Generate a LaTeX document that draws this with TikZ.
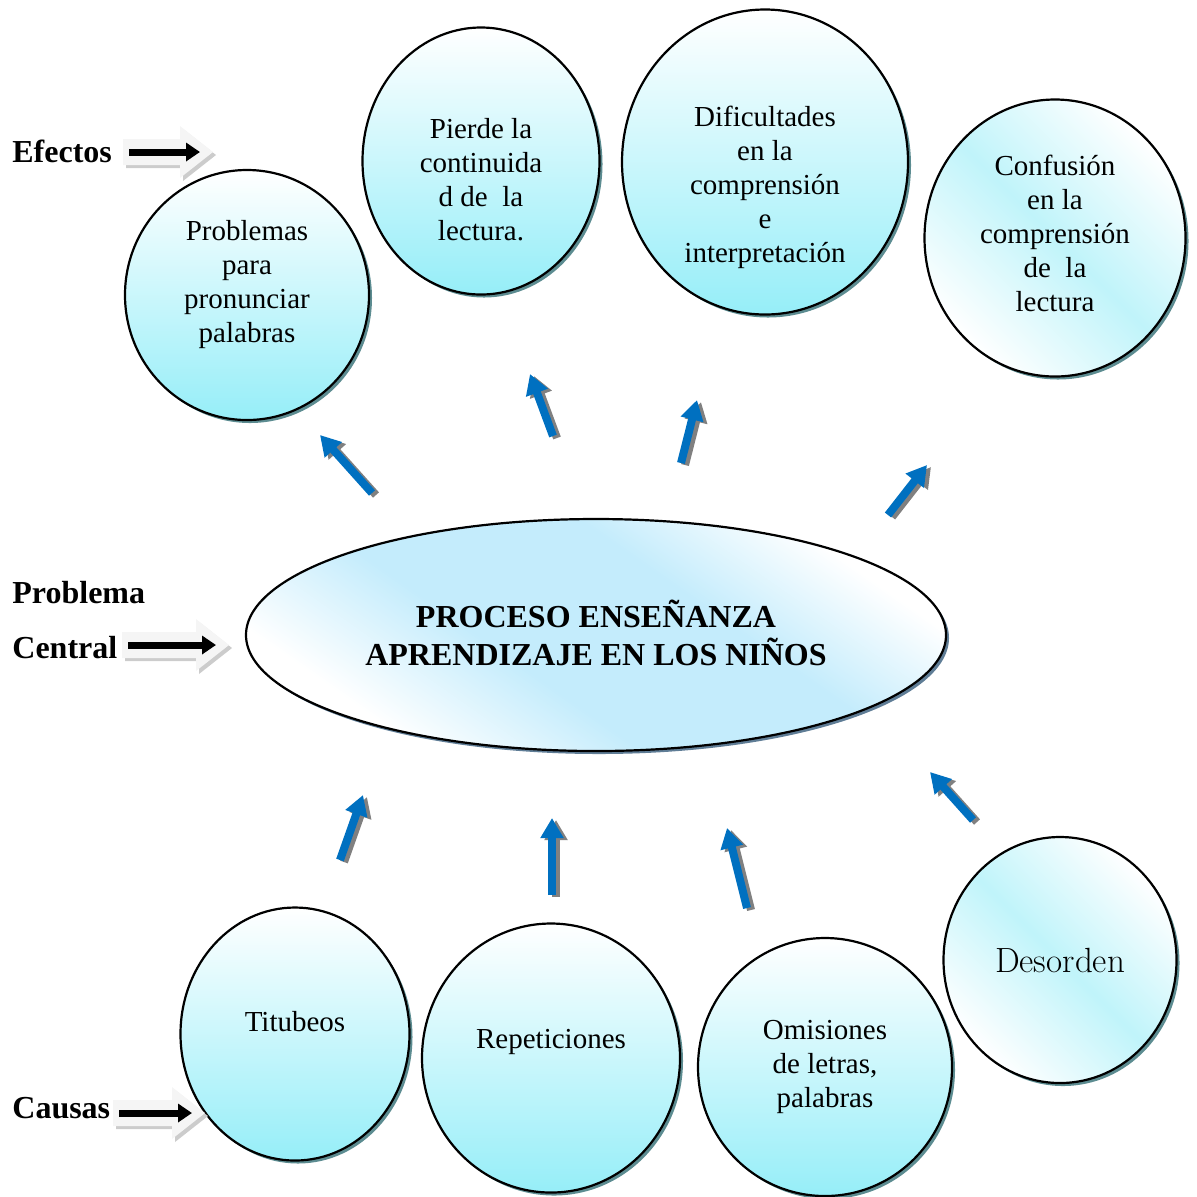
\documentclass[tikz,border=0pt]{standalone}
\usepackage{fontspec}
\setmainfont{Liberation Serif}
\usetikzlibrary{shapes.geometric,shadows,arrows.meta}
\definecolor{cyandeep}{RGB}{150,238,248}
\definecolor{cyanmid}{RGB}{192,244,250}
\definecolor{skyblue}{RGB}{196,236,252}
\definecolor{tealshadow}{RGB}{92,140,145}
\definecolor{slateshadow}{RGB}{95,125,150}
\definecolor{arrowblue}{RGB}{0,112,192}
\pgfdeclareverticalshading{ellband}{100bp}{color(0bp)=(white); color(27bp)=(white);
    color(42bp)=(skyblue); color(60bp)=(skyblue); color(74bp)=(white); color(100bp)=(white)}
\tikzset{
    bubble/.style 2 args={ellipse,draw,line width=1.1pt,inner sep=0pt,
        minimum width=#1*0.5pt,minimum height=#2*0.5pt},
    castshadow/.style={drop shadow={shadow xshift=1.5pt,shadow yshift=-1.5pt,fill=#1,opacity=1}},
    castshadow/.default=tealshadow,
    vshade/.style={top color=white,bottom color=cyandeep},
    dshade/.style={top color=white,bottom color=white,middle color=#1,shading angle=-45},
    dshade/.default=cyanmid,
    txt/.style={align=center,font=\fontsize{14.5}{17}\selectfont},
    tag/.style={anchor=west,inner sep=0pt,font=\fontsize{16}{19}\selectfont\bfseries},
    upshaft/.style={line width=4pt,-{Triangle[width=11pt,length=10pt]}},
    pics/hollowarrow/.style={code={
        \fill[gray!40,shift={(3,3)}] (0,-13) -- (#1-33,-13) -- (#1-33,-26) -- (#1,0)
            -- (#1-33,26) -- (#1-33,13) -- (0,13) -- cycle;
        \fill[gray!8] (0,-13) -- (#1-33,-13) -- (#1-33,-26) -- (#1,0)
            -- (#1-33,26) -- (#1-33,13) -- (0,13) -- cycle;
        \draw[line width=3.5pt,-{Triangle[width=9pt,length=7pt]}] (6,0) -- (#1-13,0);
    }}
}
\begin{document}
\begin{tikzpicture}[x=0.5pt,y=-0.5pt]
    \useasboundingbox (0,0) rectangle (1197,1196);

    % efectos
    \node[bubble={244}{250},vshade,castshadow] (pronunciar) at (247,295) {};
    \node[bubble={237}{267},vshade,castshadow] (continuidad) at (481,161) {};
    \node[bubble={286}{305},vshade,castshadow] (dificultades) at (765,162) {};
    \node[bubble={261}{277},dshade,castshadow] (confusion) at (1055,238) {};
    \node[txt] (pronunciarT) at (247,285) {Problemas\\para\\pronunciar\\palabras};
    \node[txt] (continuidadT) at (481,180) {Pierde la\\continuida\\d de\ \ la\\lectura.};
    \node[txt] (dificultadesT) at (765,187) {Dificultades\\en la\\comprensión\\e\\interpretación};
    \node[txt] (confusionT) at (1055,233) {Confusión\\en la\\comprensión\\de\ \ la\\lectura};

    % problema central
    \node[bubble={700}{232},shading=ellband,shading angle=-35,castshadow=slateshadow] (central) at (596,635) {};
    \node[align=center,font=\fontsize{16}{19}\selectfont\bfseries] (centralT) at (596,633)
        {PROCESO ENSEÑANZA\\APRENDIZAJE EN LOS NIÑOS};

    % causas
    \node[bubble={229}{253},vshade,castshadow] (titubeos) at (295,1034) {};
    \node[bubble={258}{269},vshade,castshadow] (repeticiones) at (551,1058) {};
    \node[bubble={254}{258},vshade,castshadow] (omisiones) at (825,1067) {};
    \node[bubble={233}{246},dshade,castshadow] (desorden) at (1060,960) {};
    \node[txt] (titubeosT) at (295,1022) {Titubeos};
    \node[txt] (repeticionesT) at (551,1042) {Repeticiones};
    \node[txt] (omisionesT) at (825,1067) {Omisiones\\de letras,\\palabras};
    \node[txt,font=\fontsize{17.5}{19}\fontfamily{lmr}\selectfont] (desordenT) at (1060,960) {Desorden};

    % flechas azules
    \foreach \a/\b/\c/\d in {372/493/320/435, 553/436/530/374, 681/463/697/400, 888/515/927/465,
                             340/860/363/795, 552/895/552/818, 747/908/727/828, 973/820/930/772}
    {
        \draw[upshaft,gray,shift={(4,2)}] (\a,\b) -- (\c,\d);
        \draw[upshaft,arrowblue] (\a,\b) -- (\c,\d);
    }

    % etiquetas
    \node[tag] (efectos) at (12,151) {Efectos};
    \node[tag] (problema) at (12,593) {Problema};
    \node[tag] (centrallbl) at (12,648) {Central};
    \node[tag] (causas) at (12,1108) {Causas};
    \pic at (123,152) {hollowarrow=90};
    \pic at (122,645) {hollowarrow=107};
    \pic at (113,1113) {hollowarrow=92};
\end{tikzpicture}
\end{document}
